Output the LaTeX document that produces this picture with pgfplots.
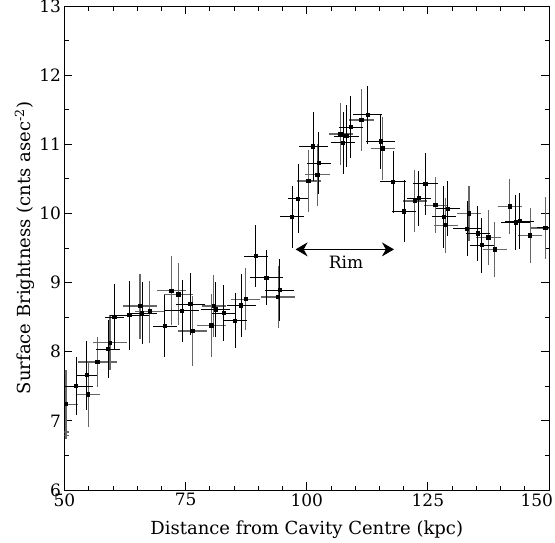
\documentclass[border=0pt]{standalone}
\usepackage{pgfplots}
\pgfplotsset{compat=1.18}
\usepackage{pgfplotstable}
\usepackage{fontspec}
\setmainfont{DejaVu Serif}
\usetikzlibrary{arrows.meta}

\pgfplotstableread{
x y ex ey
52.4 7.50 3.5 0.42
54.6 7.66 2.2 0.50
59.0 8.04 2.5 0.42
60.3 8.50 2.0 0.48
63.4 8.53 4.0 0.50
66.0 8.56 3.0 0.45
70.7 8.37 2.5 0.45
74.3 8.59 3.5 0.45
76.0 8.69 3.0 0.45
81.2 8.61 3.0 0.40
82.9 8.56 2.5 0.40
85.2 8.45 2.5 0.40
86.5 8.67 3.0 0.45
89.5 9.38 2.5 0.45
94.4 8.89 3.0 0.45
91.7 9.07 3.5 0.40
97.0 9.95 2.5 0.45
98.2 10.21 2.0 0.50
101.3 10.97 3.0 0.50
102.5 10.73 2.5 0.45
107.5 11.02 2.5 0.45
108.2 11.12 2.5 0.45
109.1 11.25 2.5 0.45
112.6 11.43 3.0 0.42
115.3 11.04 3.0 0.40
117.8 10.46 2.7 0.45
120.1 10.03 2.5 0.45
123.1 10.22 2.5 0.40
124.5 10.43 2.5 0.45
128.3 9.95 2.5 0.45
129.1 10.07 2.5 0.40
133.1 9.78 3.0 0.40
135.3 9.71 2.5 0.40
136.1 9.54 2.5 0.40
143.1 9.87 3.0 0.40
144.0 9.89 3.0 0.40
150.5 9.80 3.0 0.45
}\blackdata

\pgfplotstableread{
x y ex ey
48.5 6.84 2.5 0.50
48.5 6.79 2.5 0.50
50.3 7.24 2.5 0.50
54.9 7.38 2.5 0.47
56.8 7.85 4.0 0.36
59.4 8.13 3.5 0.40
65.6 8.66 3.5 0.47
67.6 8.58 3.0 0.45
72.1 8.88 3.0 0.50
73.5 8.83 3.0 0.45
76.4 8.30 3.0 0.50
80.3 8.38 3.0 0.45
80.8 8.66 2.5 0.45
87.4 8.76 3.0 0.45
94.1 8.79 3.5 0.45
100.4 10.47 2.5 0.45
102.2 10.56 2.5 0.45
107.0 11.15 2.5 0.45
111.3 11.35 2.5 0.45
115.7 10.94 2.5 0.45
122.3 10.18 2.5 0.45
126.6 10.12 2.5 0.40
128.7 9.83 2.5 0.40
133.5 10.00 2.5 0.40
137.5 9.65 2.5 0.40
138.8 9.48 2.5 0.40
141.9 10.10 2.5 0.40
146.1 9.68 2.5 0.40
149.3 9.79 3.0 0.45
}\graydata

\begin{document}
\begin{tikzpicture}
\begin{axis}[
  at={(0,0)}, anchor=south west,
  scale only axis, width=484.5pt, height=484pt,
  xmin=50, xmax=150, ymin=6, ymax=13,
  xtick={50,75,100,125,150},
  xticklabels={50,75,100,125,{\makebox[8pt][r]{150}}},
  minor x tick num=4,
  ytick={6,7,8,9,10,11,12,13}, minor y tick num=1,
  tick align=inside, tick pos=both,
  major tick length=8pt, minor tick length=4.5pt,
  every tick/.style={black, line width=0.8pt},
  axis line style={line width=1pt},
  /pgf/number format/assume math mode=true,
  ticklabel style={font=\fontsize{17}{19}\selectfont},
  xticklabel style={yshift=0pt},
  label style={font=\fontsize{18}{20}\selectfont},
  xlabel={Distance from Cavity Centre (kpc)},
  ylabel={Surface Brightness (cnts asec\textsuperscript{-2})},
  xlabel style={yshift=-8pt},
  ylabel style={yshift=-2pt},
  clip=true,
]
\addplot[black!60, line width=1.2pt, only marks, mark=square*, mark size=1.6pt,
  mark options={black},
  error bars/.cd, x dir=both, x explicit, y dir=both, y explicit,
  error mark=none, error bar style={black!60, line width=1.2pt}]
  table[x=x, y=y, x error=ex, y error=ey] {\graydata};
\addplot[black, line width=0.9pt, only marks, mark=square*, mark size=1.6pt,
  error bars/.cd, x dir=both, x explicit, y dir=both, y explicit,
  error mark=none, error bar style={black, line width=0.9pt}]
  table[x=x, y=y, x error=ex, y error=ey] {\blackdata};
\draw[line width=1pt, {Stealth[length=12pt,width=14pt]}-{Stealth[length=12pt,width=14pt]}]
  (axis cs:97.7,9.48) -- (axis cs:118.0,9.48);
\node[font=\fontsize{17}{19}\selectfont] at (axis cs:108.1,9.30) {Rim};
\end{axis}
\pgfresetboundingbox
\path[use as bounding box] (-64.5pt,-52pt) rectangle (490.5pt,490pt);
\end{tikzpicture}
\end{document}
